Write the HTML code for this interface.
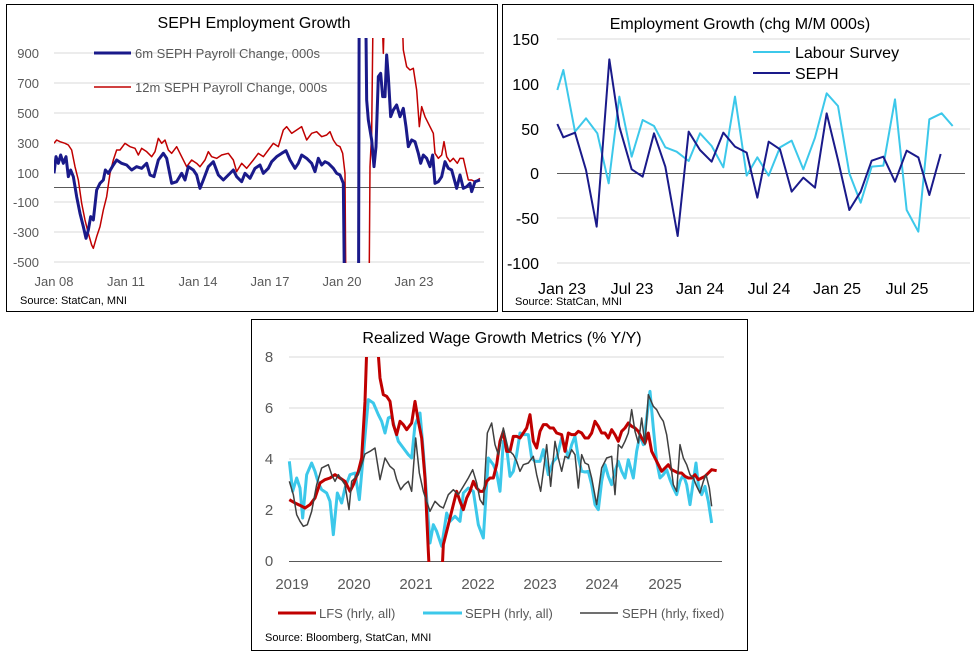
<!DOCTYPE html>
<html><head><meta charset="utf-8"><style>
body{margin:0;background:#fff;}
svg{display:block;font-family:"Liberation Sans",sans-serif;}
.g{stroke:#d9d9d9;stroke-width:1}
polyline{fill:none;vector-effect:non-scaling-stroke;stroke-linejoin:round}
</style></head><body>
<svg width="977" height="657" viewBox="0 0 977 657" xmlns="http://www.w3.org/2000/svg">
<defs>
<clipPath id="c1"><rect x="54" y="38" width="432" height="225"/></clipPath>
<clipPath id="c3"><rect x="285" y="357" width="445" height="205"/></clipPath>
</defs>
<!-- Panel 1 -->
<rect x="6.5" y="4.5" width="491" height="307" fill="#fff" stroke="#000" stroke-width="1"/>
<text x="254" y="28" text-anchor="middle" font-size="16" fill="#000">SEPH Employment Growth</text>
<g class="g">
<line x1="54" x2="484" y1="53" y2="53"/><line x1="54" x2="484" y1="83" y2="83"/><line x1="54" x2="484" y1="113" y2="113"/><line x1="54" x2="484" y1="143" y2="143"/><line x1="54" x2="484" y1="173" y2="173"/><line x1="54" x2="484" y1="202" y2="202"/><line x1="54" x2="484" y1="232" y2="232"/><line x1="54" x2="484" y1="262" y2="262"/>
</g>
<line x1="54" x2="484" y1="187.5" y2="187.5" stroke="#595959" stroke-width="1"/>
<g font-size="13" fill="#595959" text-anchor="end">
<text x="39" y="58">900</text><text x="39" y="88">700</text><text x="39" y="118">500</text><text x="39" y="148">300</text><text x="39" y="178">100</text><text x="39" y="207">-100</text><text x="39" y="237">-300</text><text x="39" y="267">-500</text>
</g>
<g font-size="13" fill="#595959" text-anchor="middle">
<text x="54" y="286">Jan 08</text><text x="126" y="286">Jan 11</text><text x="198" y="286">Jan 14</text><text x="270" y="286">Jan 17</text><text x="342" y="286">Jan 20</text><text x="414" y="286">Jan 23</text>
</g>
<text x="20" y="304" font-size="11" fill="#000">Source:  StatCan, MNI</text>
<g clip-path="url(#c1)"><g transform="scale(0.33333)">
<polyline stroke="#c00000" stroke-width="1.5" points="162,430 170,420 180,425 195,430 205,435 215,450 225,500 235,540 245,610 255,660 265,700 275,735 280,745 290,710 300,680 310,630 320,590 330,520 340,480 350,450 360,450 375,430 390,440 405,445 415,465 425,445 440,455 455,470 465,455 475,415 485,430 495,420 505,450 515,460 530,440 545,470 560,500 575,480 590,490 600,500 615,480 625,455 635,470 650,475 665,465 685,460 700,480 710,515 725,490 740,505 760,480 775,460 790,470 805,450 820,430 835,440 850,390 860,380 875,400 890,390 905,380 920,420 935,400 950,395 965,410 980,405 990,395 1000,420 1010,435 1020,440 1028,460 1035,520 1040,1200 1105,1200 1110,500 1115,400 1122,-200 1138,-200 1150,160 1160,-200 1198,-200 1210,150 1220,200 1230,210 1240,205 1250,270 1258,380 1265,320 1275,350 1290,380 1300,400 1305,460 1315,475 1325,465 1332,425 1340,470 1350,485 1360,475 1372,490 1380,475 1390,475 1398,510 1405,540 1415,540 1425,545 1440,535"/>
<polyline stroke="#1a1a8a" stroke-width="3" points="162,520 168,470 175,490 182,465 190,490 198,470 205,530 212,510 220,530 230,590 240,640 250,680 258,715 265,690 272,650 280,660 290,570 300,550 310,540 316,510 325,520 340,495 350,480 365,490 380,495 395,510 410,500 425,505 440,490 450,525 462,530 475,480 490,460 500,475 515,550 530,545 545,520 555,540 565,500 580,510 590,525 600,565 610,540 625,500 640,485 655,525 670,540 685,525 700,510 710,530 725,545 735,520 750,535 765,505 780,495 790,520 805,505 815,485 830,470 845,460 858,452 870,480 885,505 895,490 905,465 920,475 935,490 945,515 955,475 965,495 975,485 985,490 1000,505 1010,520 1020,525 1030,550 1037,1200 1075,1200 1078,-200 1095,-200 1100,300 1105,360 1115,420 1122,500 1128,440 1135,230 1142,220 1148,290 1155,290 1160,165 1165,230 1172,350 1180,330 1190,315 1200,350 1210,325 1218,380 1225,440 1235,420 1245,425 1255,460 1262,490 1270,465 1280,475 1290,500 1298,465 1305,550 1315,545 1325,530 1335,485 1345,505 1355,510 1370,565 1380,525 1390,565 1400,560 1410,550 1415,575 1425,545 1440,540"/>
</g></g>
<rect x="88" y="44" width="310" height="52" fill="#fff" opacity="0"/>
<line x1="94" x2="131" y1="53" y2="53" stroke="#1a1a8a" stroke-width="3"/>
<text x="135" y="58" font-size="13" fill="#595959">6m SEPH Payroll Change, 000s</text>
<line x1="94" x2="131" y1="87" y2="87" stroke="#c00000" stroke-width="1.5"/>
<text x="135" y="92" font-size="13" fill="#595959">12m SEPH Payroll Change, 000s</text>

<!-- Panel 2 -->
<rect x="502.5" y="4.5" width="471" height="307" fill="#fff" stroke="#000" stroke-width="1"/>
<text x="740" y="29" text-anchor="middle" font-size="16" fill="#000">Employment Growth (chg M/M 000s)</text>
<g class="g">
<line x1="557" x2="970" y1="39" y2="39"/><line x1="557" x2="970" y1="84" y2="84"/><line x1="557" x2="970" y1="129" y2="129"/><line x1="557" x2="970" y1="218" y2="218"/><line x1="557" x2="970" y1="263" y2="263"/>
</g>
<line x1="557" x2="965" y1="173.5" y2="173.5" stroke="#595959" stroke-width="1"/>
<g font-size="16" fill="#000" text-anchor="end">
<text x="539" y="45">150</text><text x="539" y="90">100</text><text x="539" y="135">50</text><text x="539" y="179">0</text><text x="539" y="224">-50</text><text x="539" y="269">-100</text>
</g>
<g font-size="16" fill="#000" text-anchor="middle">
<text x="562" y="294">Jan 23</text><text x="632" y="294">Jul 23</text><text x="700" y="294">Jan 24</text><text x="769" y="294">Jul 24</text><text x="837" y="294">Jan 25</text><text x="907" y="294">Jul 25</text>
</g>
<text x="515" y="305" font-size="11" fill="#000">Source:  StatCan, MNI</text>
<g transform="translate(500,0) scale(0.33333)">
<polyline stroke="#3cc8ea" stroke-width="2" points="172,270 190,210 225,395 258,355 292,400 326,550 358,290 395,470 428,360 462,378 496,442 530,455 566,483 600,400 635,438 670,502 705,290 740,527 772,472 806,527 840,442 875,422 910,508 945,413 980,280 1014,318 1048,520 1082,608 1115,500 1150,497 1185,298 1220,630 1255,695 1288,358 1325,340 1358,378"/>
<polyline stroke="#1a1a8a" stroke-width="2" points="172,372 190,412 225,398 258,510 290,680 328,178 358,380 395,508 428,530 462,400 496,500 533,708 566,395 600,450 635,485 670,398 705,440 740,458 772,593 806,425 840,448 875,575 910,533 945,563 980,340 1014,480 1048,630 1082,575 1115,482 1150,470 1185,545 1220,452 1255,472 1288,585 1322,462"/>
</g>
<line x1="753" x2="790" y1="52" y2="52" stroke="#3cc8ea" stroke-width="2"/>
<text x="795" y="58" font-size="16" fill="#000">Labour Survey</text>
<line x1="753" x2="790" y1="73" y2="73" stroke="#1a1a8a" stroke-width="2"/>
<text x="795" y="79" font-size="16" fill="#000">SEPH</text>

<!-- Panel 3 -->
<rect x="251.5" y="319.5" width="496" height="331" fill="#fff" stroke="#000" stroke-width="1"/>
<text x="502" y="343" text-anchor="middle" font-size="16" fill="#000">Realized Wage Growth Metrics (% Y/Y)</text>
<g class="g">
<line x1="289" x2="724" y1="357" y2="357"/><line x1="289" x2="724" y1="408" y2="408"/><line x1="289" x2="724" y1="459" y2="459"/><line x1="289" x2="724" y1="510" y2="510"/>
</g>
<line x1="289" x2="722" y1="561.5" y2="561.5" stroke="#595959" stroke-width="1"/>
<g font-size="15" fill="#595959" text-anchor="middle">
<text x="269" y="362">8</text><text x="269" y="413">6</text><text x="269" y="464">4</text><text x="269" y="515">2</text><text x="269" y="566">0</text>
<text x="292" y="589">2019</text><text x="354" y="589">2020</text><text x="416" y="589">2021</text><text x="478" y="589">2022</text><text x="540" y="589">2023</text><text x="602" y="589">2024</text><text x="665" y="589">2025</text>
</g>
<g clip-path="url(#c3)"><g transform="translate(250,318) scale(0.33333)">
<polyline stroke="#3cc8ea" stroke-width="3" points="118,430 128,520 140,480 150,510 158,600 170,470 185,435 195,460 205,495 215,515 230,525 240,550 250,650 262,525 275,555 285,510 300,470 315,465 328,545 340,410 355,245 370,255 385,290 395,310 405,345 415,300 425,295 435,335 445,370 460,390 475,410 485,420 495,320 510,285 520,400 530,540 540,675 550,620 560,640 575,685 590,585 600,610 615,595 630,610 640,525 655,510 670,520 685,620 700,660 715,420 730,440 740,465 750,520 760,370 770,390 780,475 790,460 800,410 810,345 820,350 835,350 845,420 855,430 870,430 880,395 895,470 910,430 920,420 935,360 945,385 955,420 965,380 975,355 985,420 995,460 1005,462 1015,460 1025,500 1035,560 1045,575 1055,490 1065,440 1075,475 1085,500 1095,460 1105,430 1115,460 1125,480 1135,425 1150,480 1160,400 1170,350 1180,380 1190,300 1200,220 1210,330 1220,430 1230,480 1240,470 1250,455 1260,485 1270,510 1280,530 1290,490 1300,470 1310,500 1320,560 1330,490 1338,435 1345,500 1355,530 1365,505 1375,550 1385,615"/>
<polyline stroke="#c00000" stroke-width="3" points="118,545 135,555 150,562 165,570 180,560 195,540 210,495 225,485 240,480 255,470 270,480 285,490 300,520 310,500 325,460 335,420 345,250 350,100 355,-50 380,-50 385,110 390,180 400,230 410,235 420,250 430,320 440,350 450,310 460,320 470,335 485,315 495,250 505,310 515,360 525,480 535,700 545,900 570,900 580,680 590,640 600,600 610,560 620,520 630,550 640,575 650,540 660,520 670,490 680,510 690,520 700,520 710,490 720,480 730,480 740,440 750,370 760,340 770,400 780,400 790,355 800,355 810,360 820,345 830,330 840,290 850,370 860,390 870,340 880,320 890,320 900,330 910,330 920,345 935,350 945,400 955,345 965,350 975,350 985,340 995,345 1005,360 1015,360 1025,345 1035,310 1045,325 1055,345 1065,345 1075,360 1085,335 1095,350 1105,370 1115,340 1125,330 1135,315 1145,325 1155,330 1165,340 1175,360 1185,375 1195,345 1205,400 1215,420 1225,440 1235,460 1245,450 1255,440 1265,455 1275,460 1285,465 1295,465 1305,475 1315,480 1325,480 1335,470 1345,485 1355,480 1365,475 1375,465 1385,455 1400,458"/>
<polyline stroke="#404040" stroke-width="1.5" points="118,490 130,530 140,590 150,610 160,625 172,620 185,580 200,500 215,450 225,445 235,440 245,470 255,490 265,470 275,485 285,500 297,575 305,490 315,480 325,470 335,440 345,408 360,400 375,390 390,485 405,420 420,445 432,455 440,485 452,515 463,500 475,490 485,520 497,360 508,465 520,520 530,550 540,580 555,550 570,565 580,570 595,530 610,515 625,530 640,505 655,480 668,455 680,495 690,545 700,560 712,345 725,315 735,380 745,410 760,330 775,395 790,410 800,430 810,460 820,440 835,435 850,415 860,470 872,520 880,460 890,380 902,505 915,370 925,420 935,460 945,415 955,420 965,395 975,410 985,510 995,410 1005,435 1015,440 1025,480 1040,560 1055,450 1070,420 1085,415 1095,530 1105,380 1115,390 1125,370 1135,345 1145,275 1155,340 1165,375 1175,300 1185,380 1195,230 1210,265 1220,275 1230,295 1240,310 1250,350 1260,420 1270,500 1280,520 1290,380 1300,420 1310,440 1320,470 1330,480 1340,505 1350,525 1360,490 1368,470 1378,510 1385,565"/>
</g></g>
<line x1="278" x2="316" y1="613" y2="613" stroke="#c00000" stroke-width="3"/>
<text x="319" y="618" font-size="13" fill="#595959">LFS (hrly, all)</text>
<line x1="423" x2="462" y1="613" y2="613" stroke="#3cc8ea" stroke-width="3"/>
<text x="465" y="618" font-size="13" fill="#595959">SEPH (hrly, all)</text>
<line x1="580" x2="618" y1="613" y2="613" stroke="#404040" stroke-width="1.5"/>
<text x="622" y="618" font-size="13" fill="#595959">SEPH (hrly, fixed)</text>
<text x="265" y="641" font-size="11" fill="#000">Source: Bloomberg, StatCan, MNI</text>
</svg>
</body></html>
